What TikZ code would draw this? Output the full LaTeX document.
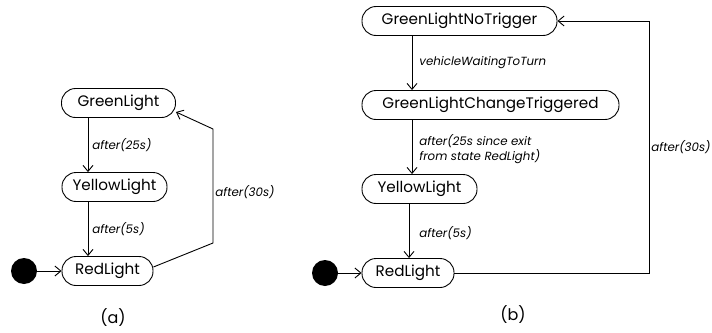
\documentclass[tikz,border=0pt]{standalone}
\usepackage{fontspec}
\setmainfont{Poppins}
\usetikzlibrary{arrows.meta}
\begin{document}
\begin{tikzpicture}[x=1pt,y=-1pt,
  state/.style={draw,line width=0.9pt,rounded corners=14pt,minimum height=29pt,inner xsep=0pt,font=\fontsize{15.2}{17}\selectfont},
  lbl/.style={font=\itshape\fontsize{11.8}{14.5}\selectfont,inner sep=0pt},
  tr/.style={line width=0.9pt,-{Straight Barb[length=6pt,width=10pt,line width=0.9pt]}},
  init/.style={circle,fill=black,minimum size=26pt,inner sep=0pt},
  captxt/.style={font=\fontsize{16}{18}\selectfont}]
\useasboundingbox (0,0) rectangle (712,332);
\coordinate (xa) at (88,0);
\coordinate (xb) at (412,0);
\coordinate (xc) at (409,0);
\coordinate (ya1) at (0,267);
\coordinate (ya2) at (0,112);
% (a)
\node[state,minimum width=114pt] (ga) at (118.5,103) {GreenLight};
\node[state,minimum width=105pt] (ya) at (114.5,187) {YellowLight};
\node[state,minimum width=91pt] (ra) at (107.5,271) {RedLight};
\node[init] (ia) at (24,271) {};
\draw[tr] (ia) -- (ra);
\draw[tr] (ga.south -| xa) -- (ya.north -| xa) node[lbl,midway,anchor=west,xshift=4pt] {after(25s)};
\draw[tr] (ya.south -| xa) -- (ra.north -| xa) node[lbl,midway,anchor=west,xshift=4pt] {after(5s)};
\coordinate (a1) at (213,243);
\coordinate (a2) at (213,129);
\draw[tr] (ra.east |- ya1) -- (a1) -- node[lbl,anchor=west,xshift=2pt,pos=0.45] {after(30s)} (a2) -- (ga.east |- ya2);
\node[captxt] (capa) at (113,318) {(a)};
% (b)
\node[state,minimum width=195pt] (gn) at (459.5,21) {GreenLightNoTrigger};
\node[state,minimum width=257pt] (gc) at (490.5,105) {GreenLightChangeTriggered};
\node[state,minimum width=115pt] (yb) at (419.5,189) {YellowLight};
\node[state,minimum width=92pt] (rb) at (408,273) {RedLight};
\node[init] (ib) at (325,273) {};
\draw[tr] (ib) -- (rb);
\draw[tr] (gn.south -| xb) -- (gc.north -| xb) node[lbl,midway,anchor=west,xshift=7pt] {vehicleWaitingToTurn};
\draw[tr] (gc.south -| xb) -- (yb.north -| xb) node[lbl,midway,anchor=west,xshift=7pt,align=left,yshift=-2pt] {after(25s since exit\\from state RedLight)};
\draw[tr] (yb.south -| xc) -- (rb.north -| xc) node[lbl,midway,anchor=west,xshift=10pt,yshift=-2pt] {after(5s)};
\coordinate (b1) at (649,273);
\coordinate (b2) at (649,21);
\draw[tr] (rb.east) -- (b1) -- node[lbl,anchor=west,xshift=2pt,pos=0.5] {after(30s)} (b2) -- (gn.east);
\node[captxt] (capb) at (513,315) {(b)};
\end{tikzpicture}
\end{document}
